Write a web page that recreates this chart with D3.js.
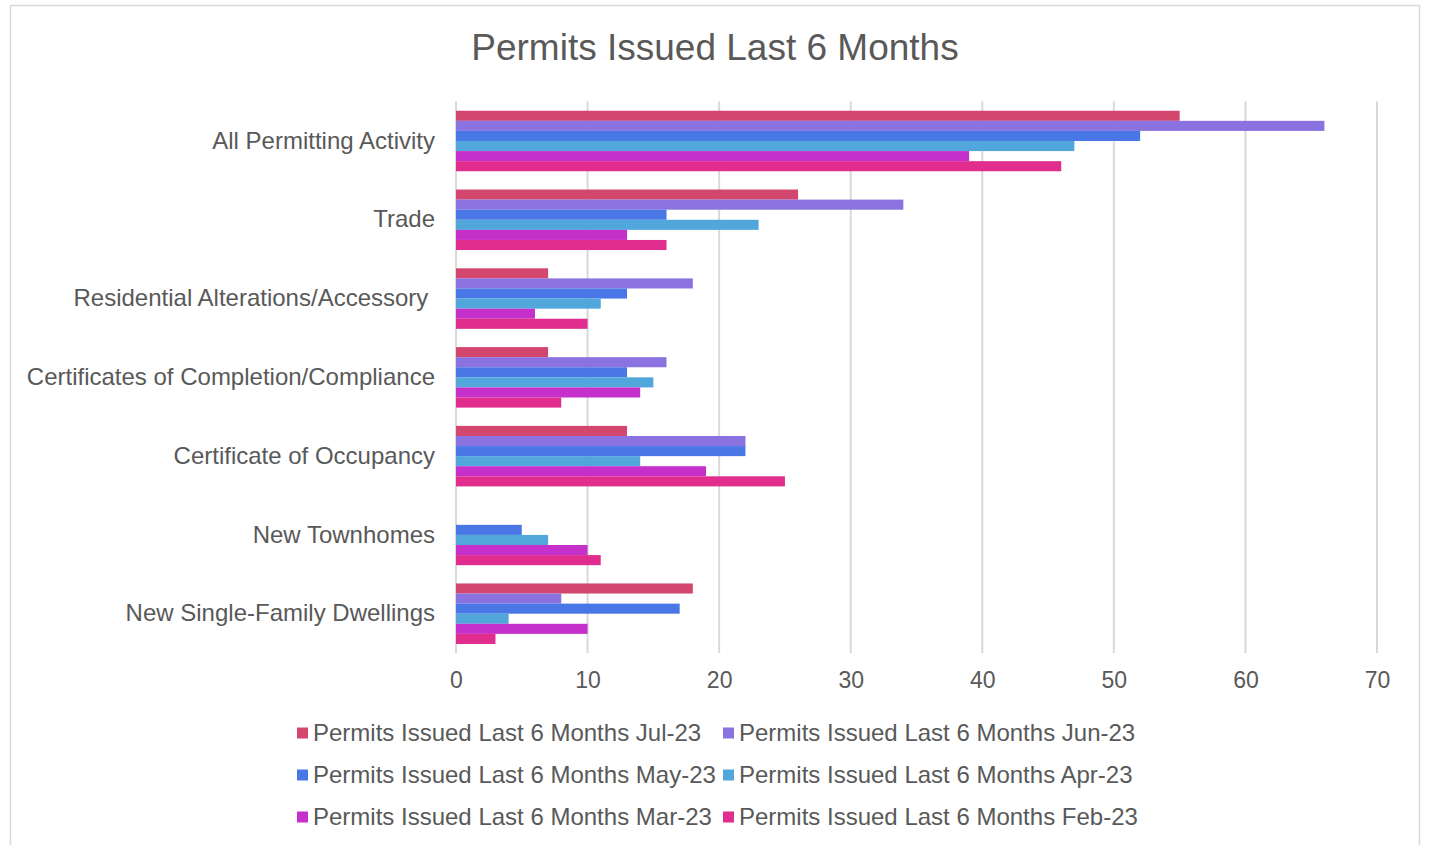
<!DOCTYPE html>
<html>
<head>
<meta charset="utf-8">
<script src="https://cdn.jsdelivr.net/npm/d3@7"></script>
<style>
  html, body { margin: 0; padding: 0; background: #fff; }
  svg { display: block; font-family: "Liberation Sans", Arial, sans-serif; }
</style>
</head>
<body>
<svg id="chart" width="1429" height="845"></svg>
<script>
const title = "Permits Issued Last 6 Months";
const categories = [
  "All Permitting Activity",
  "Trade",
  "Residential Alterations/Accessory ",
  "Certificates of Completion/Compliance",
  "Certificate of Occupancy",
  "New Townhomes",
  "New Single-Family Dwellings"
];
const seriesNames = [
  "Permits Issued Last 6 Months Jul-23",
  "Permits Issued Last 6 Months Jun-23",
  "Permits Issued Last 6 Months May-23",
  "Permits Issued Last 6 Months Apr-23",
  "Permits Issued Last 6 Months Mar-23",
  "Permits Issued Last 6 Months Feb-23"
];
const seriesColors = ["#D3466E", "#8A73E0", "#4A77E6", "#51A6DB", "#C530CB", "#E02D8E"];
const jul23 = [55, 26, 7, 7, 13, 0, 18];
const jun23 = [66, 34, 18, 16, 22, 0, 8];
const may23 = [52, 16, 13, 13, 22, 5, 17];
const apr23 = [47, 23, 11, 15, 14, 7, 4];
const mar23 = [39, 13, 6, 14, 19, 10, 10];
const feb23 = [46, 16, 10, 8, 25, 11, 3];
const xTicks = [0, 10, 20, 30, 40, 50, 60, 70];

const seriesValues = [jul23, jun23, may23, apr23, mar23, feb23];

const svg = d3.select("#chart");
const textColor = "#595959";
const gridColor = "#D9D9D9";
const fontFam = '"Liberation Sans", Arial, sans-serif';

// outer border
svg.append("rect")
  .attr("x", 10.5).attr("y", 5.5)
  .attr("width", 1409).attr("height", 845)
  .attr("fill", "#fff").attr("stroke", gridColor).attr("stroke-width", 1.5);

const plot = { left: 456, right: 1377, top: 101.6, bottom: 653.1 };

const x = d3.scaleLinear().domain([0, 70]).range([plot.left, plot.right]);
const y = d3.scaleBand().domain(categories).range([plot.top, plot.bottom])
  .paddingInner(0.232).paddingOuter(0.116);
const yInner = d3.scaleBand().domain(d3.range(seriesNames.length)).range([0, y.bandwidth()]);

// gridlines
svg.append("g")
  .selectAll("line").data(xTicks).join("line")
  .attr("x1", d => x(d)).attr("x2", d => x(d))
  .attr("y1", plot.top).attr("y2", plot.bottom)
  .attr("stroke", gridColor).attr("stroke-width", 2);

// x tick labels via axis
const xAxis = svg.append("g")
  .attr("transform", `translate(0,${plot.bottom})`)
  .call(d3.axisBottom(x).tickValues(xTicks).tickSize(0).tickPadding(19));
xAxis.select(".domain").remove();
xAxis.selectAll("text")
  .attr("fill", textColor).style("font-size", "23px")
  .style("font-family", fontFam);

// bars
const groups = svg.append("g").selectAll("g").data(categories).join("g")
  .attr("transform", d => `translate(0,${y(d)})`);
groups.selectAll("rect")
  .data((c, ci) => seriesValues.map((vals, si) => ({ si, v: vals[ci] })))
  .join("rect")
  .attr("x", x(0))
  .attr("y", d => yInner(d.si))
  .attr("width", d => x(d.v) - x(0))
  .attr("height", yInner.bandwidth())
  .attr("fill", d => seriesColors[d.si]);

// category labels
const yAxis = svg.append("g")
  .attr("transform", `translate(${plot.left},0)`)
  .call(d3.axisLeft(y).tickSize(0).tickPadding(21));
yAxis.select(".domain").remove();
yAxis.selectAll("text")
  .attr("fill", textColor).style("font-size", "24px")
  .style("white-space", "pre")
  .attr("xml:space", "preserve")
  .style("font-family", fontFam);

// title
svg.append("text")
  .attr("x", 715).attr("y", 60)
  .attr("text-anchor", "middle")
  .attr("fill", textColor)
  .style("font-size", "37px")
  .text(title);

// legend
const legendCols = [297, 723];
const legendRows = [733, 775, 817];
const legend = svg.append("g").selectAll("g").data(seriesNames).join("g")
  .attr("transform", (d, i) => `translate(${legendCols[i % 2]},${legendRows[Math.floor(i / 2)]})`);
legend.append("rect")
  .attr("x", 0).attr("y", -5.5).attr("width", 11).attr("height", 11)
  .attr("fill", (d, i) => seriesColors[i]);
legend.append("text")
  .attr("x", 16).attr("y", 0).attr("dy", "0.35em")
  .attr("fill", textColor).style("font-size", "24px")
  .text(d => d);
</script>
</body>
</html>
